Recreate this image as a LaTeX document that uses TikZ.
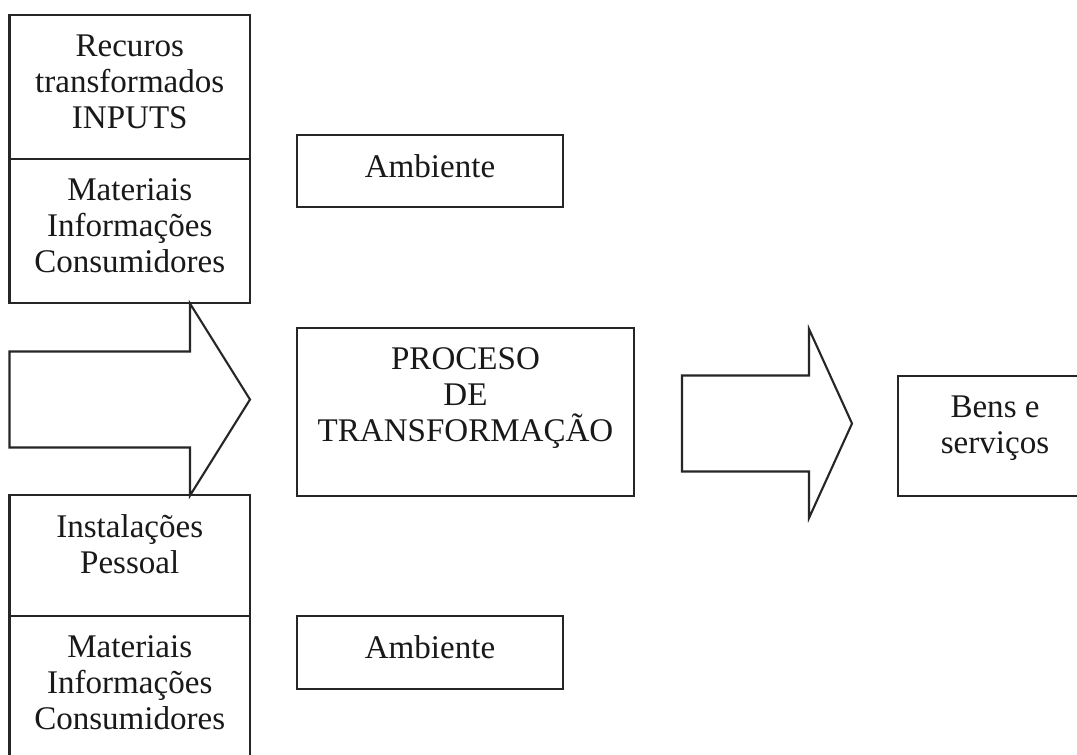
\documentclass[tikz,border=0pt]{standalone}
\usepackage{fontspec}
\setmainfont{Liberation Serif}
\usetikzlibrary{positioning,calc}
\tikzset{
  panelbox/.style={draw=black!85,line width=0.6pt,inner sep=0pt,outer sep=0pt},
  paneltext/.style={anchor=north,inner sep=0pt,align=center,text=black!90,
    font=\fontsize{9.4}{10.24}\selectfont},
  arrowline/.style={draw=black!85,line width=0.6pt,line join=miter}
}
% box from (x1,y1) to (x2,y2) in pixels, text hung from its top edge
\newcommand{\panel}[6]{%
  \node[panelbox,minimum width={(#4-#2)*0.01cm},minimum height={(#5-#3)*0.01cm}]
        (#1) at ({(#2+#4)/2},{(#3+#5)/2}) {};
  \node[paneltext] (#1-txt) at ($(#1.north)+(0,19)$) {#6};
}
% block arrow: tail x, head base x, tip x, middle y, half shaft, half head
\newcommand{\blockarrow}[6]{%
  \draw[arrowline] (#1,#4-#5) -- (#2,#4-#5) -- (#2,#4-#6) -- (#3,#4)
        -- (#2,#4+#6) -- (#2,#4+#5) -- (#1,#4+#5) -- cycle;
}
\begin{document}
\begin{tikzpicture}[x=0.01cm,y=-0.01cm]
  \useasboundingbox (0,0) rectangle (1077,754);
  \clip (0,0) rectangle (1077,754);
  \fill[white] (0,0) rectangle (1077,754);

  % left column
  \panel{recursos}{9.5}{15}{250}{159}{Recuros\\transformados\\INPUTS}
  \panel{materiais}{9.5}{159}{250}{303}{Materiais\\Informações\\Consumidores}
  \blockarrow{9.5}{190}{250}{399.5}{48}{96}
  \panel{instalacoes}{9.5}{495}{250}{616}{Instalações\\Pessoal}
  \panel{materiaisb}{9.5}{616}{250}{800}{Materiais\\Informações\\Consumidores}

  % middle
  \panel{ambiente}{297}{135}{563}{207}{Ambiente}
  \panel{processo}{297}{328}{634}{496}{PROCESO\\DE\\TRANSFORMAÇÃO}
  \panel{ambienteb}{297}{616}{563}{689}{Ambiente}

  % output
  \blockarrow{682}{809}{852}{423.5}{48}{94.5}
  \panel{bens}{898}{376}{1092}{496}{Bens e\\serviços}
\end{tikzpicture}
\end{document}
